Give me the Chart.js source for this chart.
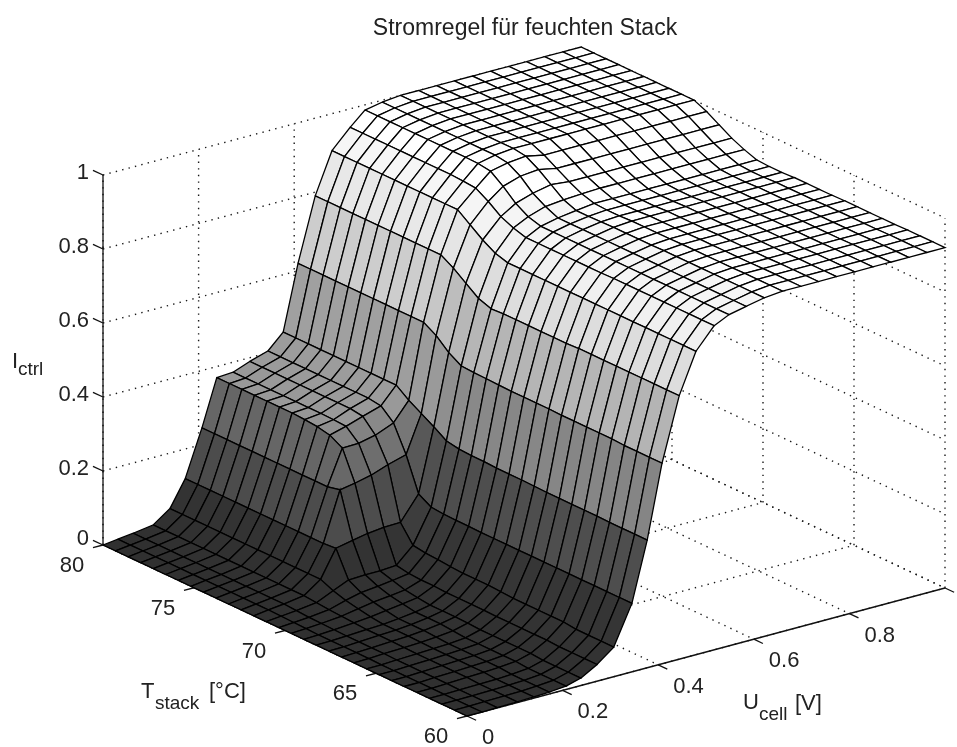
<!DOCTYPE html>
<html lang="de">
<head>
  <meta charset="UTF-8" />
  <title>Stromregel für feuchten Stack</title>
  <script src="https://cdn.jsdelivr.net/npm/chart.js"></script>
  <style>
    html, body { margin: 0; background: #fff; }
    canvas { display: block; }
  </style>
</head>
<body>
  <canvas id="surface" width="957" height="747"></canvas>

  <script>
    // mesh: U columns are not evenly spaced
    const uCell = [0, .031, .063, .105, .14, .172, .207, .238, .272, .307, .345, .377, .408, .444, .479, .517, .548, .584,
      .622, .66, .698, .735, .773, .811, .849, .886, .924, .962, 1];
    const tStack = [80, 79.31, 78.62, 77.93, 77.24, 76.55, 75.86, 75.17, 74.48, 73.79, 73.1, 72.41, 71.72, 71.03, 70.34,
      69.66, 68.97, 68.28, 67.59, 66.9, 66.21, 65.52, 64.83, 64.14, 63.45, 62.76, 62.07, 61.38, 60.69, 60];

    // one row per tStack value, one column per uCell value
    const iCtrl = [
      [0,.005,.01,.018,.05,.12,.245,.37,.373,.39,.405,.445,.62,.79,.9,.95,.986,.995,1,1,1,1,1,1,1,1,1,1,1],
      [0,.005,.01,.018,.05,.12,.245,.37,.373,.39,.405,.445,.62,.79,.9,.95,.986,.995,1,1,1,1,1,1,1,1,1,1,1],
      [0,.005,.01,.018,.05,.12,.245,.37,.373,.39,.405,.445,.62,.79,.9,.95,.986,.995,1,1,1,1,1,1,1,1,1,1,1],
      [0,.005,.01,.018,.05,.12,.245,.37,.373,.39,.405,.445,.62,.79,.9,.95,.986,.995,1,1,1,1,1,1,1,1,1,1,1],
      [0,.005,.01,.018,.05,.12,.245,.37,.373,.39,.405,.445,.62,.79,.9,.95,.986,.995,1,1,1,1,1,1,1,1,1,1,1],
      [0,.005,.01,.018,.05,.12,.245,.37,.373,.39,.405,.445,.62,.79,.9,.95,.986,.995,1,1,1,1,1,1,1,1,1,1,1],
      [0,.005,.01,.018,.05,.12,.245,.37,.373,.39,.405,.445,.62,.79,.9,.95,.986,.995,1,1,1,1,1,1,1,1,1,1,1],
      [0,.005,.01,.018,.05,.12,.245,.368,.373,.39,.405,.445,.62,.79,.9,.95,.986,.995,1,1,1,1,1,1,1,1,1,1,1],
      [0,.005,.01,.018,.05,.12,.245,.365,.372,.39,.405,.445,.62,.79,.9,.95,.986,.995,1,1,1,1,1,1,1,1,1,1,1],
      [0,.005,.01,.018,.05,.12,.245,.358,.37,.385,.4,.445,.62,.79,.9,.948,.985,.995,1,1,1,1,1,1,1,1,1,1,1],
      [0,.005,.01,.018,.05,.12,.245,.339,.34,.35,.37,.42,.62,.79,.9,.945,.98,.99,.995,.985,.985,.985,.985,.985,.985,.985,.985,.985,.985],
      [0,.005,.01,.018,.05,.12,.253,.26,.27,.286,.3,.4,.6,.77,.875,.925,.955,.97,.975,.965,.965,.965,.965,.965,.965,.965,.965,.965,.965],
      [0,.005,.01,.018,.05,.123,.132,.14,.145,.146,.21,.38,.57,.745,.85,.9,.925,.94,.95,.945,.945,.945,.945,.945,.945,.945,.945,.945,.945],
      [0,.004,.008,.015,.035,.053,.055,.055,.058,.1,.19,.358,.55,.72,.83,.885,.905,.92,.925,.928,.93,.93,.93,.93,.93,.93,.93,.93,.93],
      [0,.003,.006,.012,.025,.035,.04,.045,.052,.095,.187,.352,.548,.708,.82,.875,.895,.905,.912,.918,.918,.918,.918,.918,.918,.918,.918,.918,.918],
      [0,.002,.005,.01,.018,.025,.03,.035,.05,.093,.186,.35,.547,.71,.82,.875,.895,.905,.912,.916,.916,.916,.916,.916,.916,.916,.916,.916,.916],
      [0,.001,.004,.008,.012,.018,.024,.03,.05,.09,.186,.35,.546,.71,.82,.875,.895,.905,.913,.916,.916,.916,.916,.916,.916,.916,.916,.916,.916],
      [0,.001,.003,.006,.008,.012,.018,.026,.048,.088,.185,.348,.545,.71,.82,.875,.895,.905,.914,.918,.918,.918,.918,.918,.918,.918,.918,.918,.918],
      [0,.001,.003,.006,.008,.012,.018,.026,.048,.088,.185,.348,.545,.71,.82,.875,.895,.905,.914,.918,.918,.918,.918,.918,.918,.918,.918,.918,.918],
      [0,.001,.003,.006,.008,.012,.018,.026,.048,.088,.185,.348,.545,.71,.82,.875,.895,.905,.914,.918,.918,.918,.918,.918,.918,.918,.918,.918,.918],
      [0,.001,.003,.005,.007,.01,.015,.025,.048,.086,.185,.347,.545,.71,.82,.875,.895,.905,.914,.918,.918,.918,.918,.918,.918,.918,.918,.918,.918],
      [0,0,.002,.004,.006,.008,.012,.023,.047,.084,.185,.346,.544,.712,.82,.876,.895,.905,.915,.919,.919,.919,.919,.919,.919,.919,.919,.919,.919],
      [0,0,.002,.004,.006,.008,.012,.023,.047,.084,.185,.346,.544,.712,.82,.876,.895,.905,.915,.919,.919,.919,.919,.919,.919,.919,.919,.919,.919],
      [0,0,.002,.004,.006,.008,.012,.023,.047,.084,.185,.346,.544,.712,.82,.876,.895,.905,.915,.919,.919,.919,.919,.919,.919,.919,.919,.919,.919],
      [0,0,.002,.004,.006,.008,.012,.023,.047,.084,.185,.346,.544,.712,.82,.876,.895,.905,.915,.919,.919,.919,.919,.919,.919,.919,.919,.919,.919],
      [0,0,.002,.004,.006,.008,.012,.023,.047,.084,.185,.346,.544,.712,.82,.876,.895,.905,.915,.919,.919,.919,.919,.919,.919,.919,.919,.919,.919],
      [0,0,.001,.002,.003,.005,.009,.02,.045,.08,.185,.345,.542,.712,.82,.876,.895,.905,.915,.92,.92,.92,.92,.92,.92,.92,.92,.92,.92],
      [0,0,.001,.002,.003,.005,.009,.02,.045,.08,.185,.345,.542,.712,.82,.876,.895,.905,.915,.92,.92,.92,.92,.92,.92,.92,.92,.92,.92],
      [0,0,.001,.002,.003,.005,.009,.02,.045,.08,.185,.345,.542,.712,.82,.876,.895,.905,.915,.92,.92,.92,.92,.92,.92,.92,.92,.92,.92],
      [0,0,.001,.002,.003,.005,.009,.02,.045,.08,.185,.345,.542,.712,.82,.876,.895,.905,.915,.92,.92,.92,.92,.92,.92,.92,.92,.92,.92]
    ];

    const zTicks = [0, .2, .4, .6, .8, 1];
    const zTickLabels = ["0", "0.2", "0.4", "0.6", "0.8", "1"];
    const tTicks = [60, 65, 70, 75, 80];
    const tTickLabels = ["60", "65", "70", "75", "80"];
    const uTicks = [0, .2, .4, .6, .8, 1];
    const uTickLabels = ["0", "0.2", "0.4", "0.6", "0.8"];

    // the gray colormap of the figure, sampled at these heights
    const shadeStops = [0, .05, .09, .12, .185, .245, .345, .37, .445, .545, .62, .715, .79, .82, .875, .905, .915, 1];
    const shadeGrays = [48, 51, 54, 76, 78, 102, 133, 153, 160, 181, 205, 222, 232, 240, 245, 246, 255, 255];

    function shade(z) {
      let s = 0;
      while (s < shadeStops.length - 2 && z > shadeStops[s + 1]) s++;
      const f = Math.min(1, (z - shadeStops[s]) / (shadeStops[s + 1] - shadeStops[s]));
      const g = Math.round(shadeGrays[s] + f * (shadeGrays[s + 1] - shadeGrays[s]));
      return `rgb(${g},${g},${g})`;
    }

    // orthographic view of the box, same corners as the figure
    function project(u, temp, z) {
      const t = (80 - temp) / 20;
      return { x: 103 + 478 * u + 364 * t, y: 545 - 128 * u + 171 * t - 370 * z };
    }

    function lineSet(points, dotted) {
      return {
        data: points.map(p => project(p[0], p[1], p[2])),
        borderColor: dotted ? "#1a1a1a" : "#111",
        borderWidth: dotted ? 1.4 : 1.3,
        borderDash: dotted ? [1.4, 5.2] : [],
        pointRadius: 0,
        fill: false,
        clip: false
      };
    }

    const datasets = [];

    // first dataset is painted last, so nearest facets come first
    for (let k = tStack.length - 2; k >= 0; k--) {
      for (let i = 0; i < uCell.length - 1; i++) {
        datasets.push({
          data: [
            project(uCell[i], tStack[k], iCtrl[k][i]),
            project(uCell[i + 1], tStack[k], iCtrl[k][i + 1]),
            project(uCell[i + 1], tStack[k + 1], iCtrl[k + 1][i + 1]),
            project(uCell[i], tStack[k + 1], iCtrl[k + 1][i]),
            project(uCell[i], tStack[k], iCtrl[k][i])
          ],
          facetColor: shade(iCtrl[k + 1][i]),
          borderColor: "#000",
          borderWidth: 1.3,
          pointRadius: 0,
          fill: false,
          clip: false
        });
      }
    }

    // axis lines and tick marks
    datasets.push(lineSet([[0, 80, 0], [0, 60, 0]]));
    datasets.push(lineSet([[0, 60, 0], [1, 60, 0]]));
    datasets.push(lineSet([[0, 80, 0], [0, 80, 1]]));
    zTicks.forEach(z => datasets.push(lineSet([[0, 80, z], [0, 80.55, z]])));
    tTicks.forEach(T => datasets.push(lineSet([[0, T, 0], [-.021, T, 0]])));
    uTicks.forEach(u => datasets.push(lineSet([[u, 60, 0], [u, 59.5, 0]])));

    // dotted grid on the floor and the two back walls
    uTicks.forEach(u => {
      datasets.push(lineSet([[u, 80, 0], [u, 60, 0]], true));
      datasets.push(lineSet([[u, 80, 0], [u, 80, 1]], true));
    });
    tTicks.forEach(T => {
      datasets.push(lineSet([[0, T, 0], [1, T, 0]], true));
      datasets.push(lineSet([[1, T, 0], [1, T, 1]], true));
    });
    zTicks.forEach(z => {
      datasets.push(lineSet([[0, 80, z], [1, 80, z]], true));
      datasets.push(lineSet([[1, 80, z], [1, 60, z]], true));
    });

    const facetFill = {
      id: "facetFill",
      beforeDatasetDraw(chart, args) {
        const color = chart.data.datasets[args.index].facetColor;
        if (!color) return;
        const pts = args.meta.data;
        const ctx = chart.ctx;
        ctx.save();
        ctx.beginPath();
        pts.forEach((p, n) => n ? ctx.lineTo(p.x, p.y) : ctx.moveTo(p.x, p.y));
        ctx.closePath();
        ctx.fillStyle = color;
        ctx.fill();
        ctx.restore();
      }
    };

    const TEXT_FONT = "22px 'Liberation Sans', Arial, sans-serif";
    const SUB_FONT = "19px 'Liberation Sans', Arial, sans-serif";

    const axisText = {
      id: "axisText",
      afterDraw(chart) {
        const ctx = chart.ctx;
        const xs = chart.scales.x, ys = chart.scales.y;
        const put = (text, p, dx, dy, align) => {
          ctx.textAlign = align;
          ctx.fillText(text, xs.getPixelForValue(p.x) + dx, ys.getPixelForValue(p.y) + dy);
        };
        ctx.save();
        ctx.fillStyle = "#222";
        ctx.textBaseline = "middle";
        ctx.font = TEXT_FONT;
        zTicks.forEach((z, n) => put(zTickLabels[n], project(0, 80, z), -14, z === 0 ? -6 : -2, "right"));
        tTicks.forEach((T, n) => put(tTickLabels[n], project(0, T, 0), -31, 21, "center"));
        uTickLabels.forEach((label, n) => put(label, project(uTicks[n], 60, 0), 15, 22, "left"));

        // axis names with subscripts
        ctx.textAlign = "left";
        ctx.fillText("I", 12, 362);
        ctx.fillText("T", 141, 692);
        ctx.fillText("[°C]", 209, 692);
        ctx.fillText("U", 743, 703);
        ctx.fillText("[V]", 795, 704);
        ctx.font = SUB_FONT;
        ctx.fillText("ctrl", 18, 370);
        ctx.fillText("stack", 155, 704);
        ctx.fillText("cell", 759, 715);
        ctx.restore();
      }
    };

    new Chart(document.getElementById("surface"), {
      type: "scatter",
      data: { datasets },
      plugins: [facetFill, axisText],
      options: {
        responsive: false,
        animation: false,
        showLine: true,
        layout: { padding: { left: 93 } },
        elements: { line: { tension: 0, borderCapStyle: "butt", borderJoinStyle: "miter" } },
        scales: {
          x: { type: "linear", min: 93, max: 957, display: false },
          y: { type: "linear", min: 42, max: 747, reverse: true, display: false }
        },
        plugins: {
          legend: { display: false },
          tooltip: { enabled: false },
          title: {
            display: true,
            fullSize: false,
            text: "Stromregel für feuchten Stack",
            color: "#222",
            font: { family: "'Liberation Sans', Arial, sans-serif", size: 23, weight: "normal", lineHeight: 1.2 },
            padding: { top: 14.4, bottom: 0 }
          }
        }
      }
    });
  </script>
</body>
</html>
